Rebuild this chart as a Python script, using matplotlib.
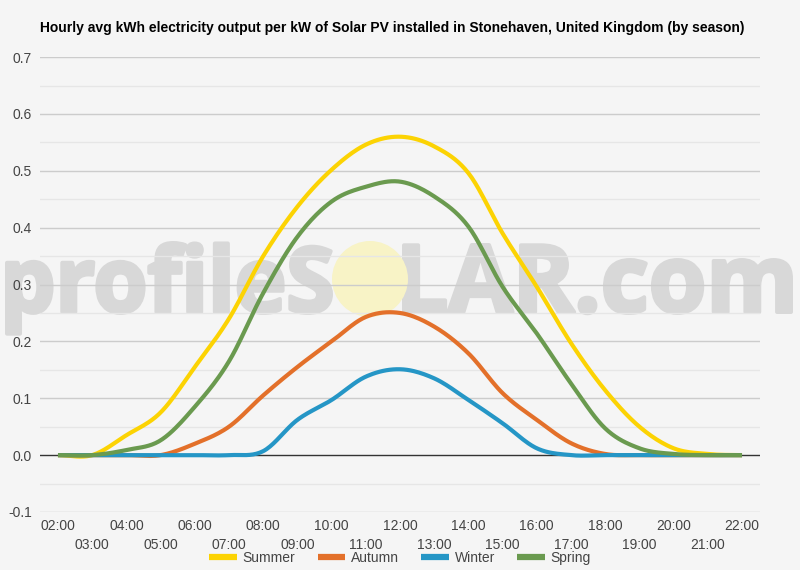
import numpy as np
import matplotlib
matplotlib.use("Agg")
import matplotlib.pyplot as plt
from matplotlib.patches import Ellipse, PathPatch
from matplotlib.textpath import TextPath
from matplotlib.font_manager import FontProperties
from matplotlib.path import Path

# ---- data ----
hours = list(range(2, 23))
hour_labels = [f"{h:02d}:00" for h in hours]
summer = [0, 0, 0.035, 0.075, 0.155, 0.24, 0.35, 0.437, 0.502, 0.546, 0.560,
          0.543, 0.496, 0.39, 0.296, 0.197, 0.114, 0.05, 0.012, 0.002, 0]
autumn = [0, 0, 0, 0, 0.02, 0.05, 0.105, 0.155, 0.2, 0.243, 0.25,
          0.226, 0.179, 0.109, 0.062, 0.021, 0.002, 0, 0, 0, 0]
winter = [0, 0, 0, 0, 0, 0, 0.007, 0.062, 0.097, 0.138, 0.151,
          0.135, 0.097, 0.056, 0.012, 0, 0, 0, 0, 0, 0]
spring = [0, 0, 0.009, 0.026, 0.085, 0.165, 0.285, 0.384, 0.446, 0.472, 0.481,
          0.455, 0.402, 0.296, 0.214, 0.126, 0.047, 0.012, 0.002, 0, 0]
series_names = ["Summer", "Autumn", "Winter", "Spring"]
series_values = [summer, autumn, winter, spring]
colors = ["#fcd303", "#e3702a", "#2596c6", "#6a9a4f"]
title = "Hourly avg kWh electricity output per kW of Solar PV installed in Stonehaven, United Kingdom (by season)"


def catmull_rom(x, y, n=20):
    x = np.asarray(x, float)
    y = np.asarray(y, float)
    xp = np.concatenate([[2 * x[0] - x[1]], x, [2 * x[-1] - x[-2]]])
    yp = np.concatenate([[y[0]], y, [y[-1]]])
    xs, ys = [], []
    t = np.linspace(0, 1, n, endpoint=False)
    for i in range(1, len(xp) - 2):
        p0, p1, p2, p3 = yp[i - 1], yp[i], yp[i + 1], yp[i + 2]
        yy = 0.5 * ((2 * p1) + (-p0 + p2) * t + (2 * p0 - 5 * p1 + 4 * p2 - p3) * t ** 2
                    + (-p0 + 3 * p1 - 3 * p2 + p3) * t ** 3)
        xx = xp[i] + (xp[i + 1] - xp[i]) * t
        xs.append(xx)
        ys.append(yy)
    xs.append([x[-1]])
    ys.append([y[-1]])
    return np.concatenate(xs), np.concatenate(ys)


W, H = 800, 570
bg = "#f5f5f5"
plt.rcParams["font.family"] = ["Liberation Sans", "DejaVu Sans"]
fig = plt.figure(figsize=(W / 100, H / 100), dpi=100, facecolor=bg)
ax = fig.add_axes([0.05, 0.1018, 0.9, 0.798])
ax.set_facecolor("none")

ax.set_xlim(1.474, 22.526)
ax.set_ylim(-0.1, 0.7)

# grid
for v in np.arange(-0.1, 0.701, 0.1):
    if abs(v) > 1e-9:
        ax.axhline(v, color="#cccccc", lw=1, zorder=1)
for v in np.arange(-0.05, 0.70, 0.1):
    ax.axhline(v, color="#e6e6e6", lw=1, zorder=1)
ax.axhline(0, color="#333333", lw=1, zorder=2)

for name, vals, c in zip(series_names, series_values, colors):
    xs, ys = catmull_rom(hours, vals)
    ax.plot(xs, ys, color=c, lw=3, solid_capstyle="butt", label=name, zorder=3)

for s in ax.spines.values():
    s.set_visible(False)

yt = np.round(np.arange(-0.1, 0.701, 0.1), 1)
ax.set_yticks(yt)
ax.set_yticklabels([f"{v:.1f}" for v in yt])
ax.set_xticks(hours[::2])
ax.set_xticklabels(hour_labels[::2])
ax.set_xticks(hours[1::2], minor=True)
ax.set_xticklabels(hour_labels[1::2], minor=True)
ax.tick_params(axis="both", which="both", length=0, labelsize=10, labelcolor="#444444")
ax.tick_params(axis="x", which="major", pad=5)
ax.tick_params(axis="x", which="minor", pad=19)
ax.tick_params(axis="y", pad=6)

fig.text(40 / W, 1 - 28 / H, title, fontsize=10, fontweight="bold",
         color="#000000", ha="left", va="center")

# watermark (behind the chart, fitted text paths; pixel boxes measured from top-left)
wm_prop = FontProperties(family="Open Sans", weight="bold")
stroke = 2.0  # px extra thickness each side
wm_color = "#d8d8d8"


def add_wm(text, x0, x1, top, base):
    tp = TextPath((0, 0), text, size=100, prop=wm_prop)
    ext = tp.get_extents()
    sx = (x1 - x0 - 2 * stroke) / (ext.x1 - ext.x0)
    sy = (base - top - stroke) / ext.y1
    v = tp.vertices.copy()
    px = (v[:, 0] - ext.x0) * sx + x0 + stroke
    py = (H - base) + v[:, 1] * sy
    path = Path(np.column_stack([px / W, py / H]), tp.codes)
    fig.add_artist(PathPatch(path, transform=fig.transFigure, facecolor=wm_color,
                             edgecolor=wm_color, linewidth=stroke * 2 * 0.72,
                             joinstyle="round", zorder=-2))


add_wm("profileS", 5, 333, 241, 312)
add_wm("LAR.com", 402, 793, 243, 312)
fig.add_artist(Ellipse((370 / W, 1 - 279 / H), 76 / W, 76 / H,
                       transform=fig.transFigure, facecolor="#f8f3c6", edgecolor="none",
                       zorder=-1))

leg = fig.legend(loc="center", bbox_to_anchor=(0.5, 1 - 558 / H), ncol=4, frameon=False,
                 fontsize=10, handlelength=2.0, handletextpad=0.4, columnspacing=1.6,
                 borderaxespad=0)
for line in leg.get_lines():
    line.set_linewidth(4.5)
for t in leg.get_texts():
    t.set_color("#444444")

fig.savefig("out.png", dpi=100, facecolor=bg)
